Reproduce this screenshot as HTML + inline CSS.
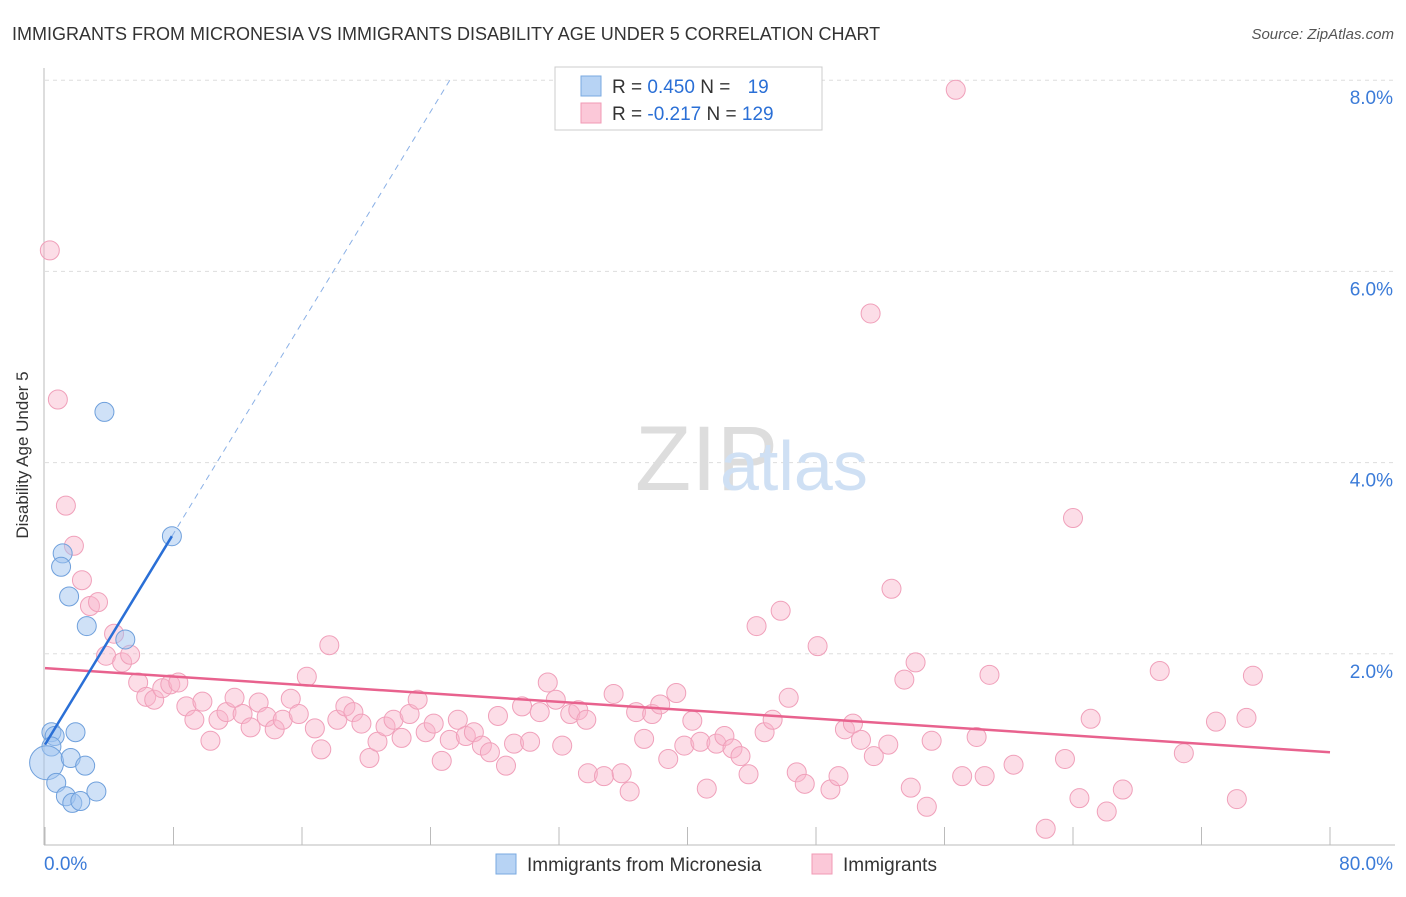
<!DOCTYPE html>
<html><head><meta charset="utf-8">
<style>
body{margin:0;background:#fff;font-family:"Liberation Sans",sans-serif}
svg text{font-family:"Liberation Sans",sans-serif}
</style></head><body>
<svg id="c" width="1406" height="892">
<text x="12" y="40" font-size="18" fill="#333">IMMIGRANTS FROM MICRONESIA VS IMMIGRANTS DISABILITY AGE UNDER 5 CORRELATION CHART</text>
<text x="1394" y="39" font-size="15" fill="#555" text-anchor="end" font-style="italic">Source: ZipAtlas.com</text>
<g id="grid"></g>
<text x="635" y="490" font-size="92" fill="#ddd" font-family="Liberation Serif">ZIP</text>
<text x="720" y="490" font-size="70" fill="#cfe0f4">atlas</text>
<g id="axes"></g>
<g id="pts"></g>
<g id="lines"></g>
<text x="28" y="455" font-size="17" fill="#333" text-anchor="middle" transform="rotate(-90 28 455)">Disability Age Under 5</text>
<g>
<rect x="555" y="67" width="267" height="63" fill="#fff" stroke="#ccc"/>
<rect x="581" y="76" width="20" height="20" fill="#b7d3f4" stroke="#7aa9e0"/>
<rect x="581" y="103" width="20" height="20" fill="#fbc8d8" stroke="#f09ab5"/>
<text x="612" y="93" font-size="19" fill="#333">R = <tspan fill="#2a6fd6">0.450</tspan>   N = <tspan fill="#2a6fd6" dx="12">19</tspan></text>
<text x="612" y="120" font-size="19" fill="#333">R = <tspan fill="#2a6fd6">-0.217</tspan>   N = <tspan fill="#2a6fd6">129</tspan></text>
</g>
<g>
<rect x="496" y="854" width="20" height="20" fill="#b7d3f4" stroke="#7aa9e0"/>
<text x="527" y="871" font-size="19" fill="#333">Immigrants from Micronesia</text>
<rect x="812" y="854" width="20" height="20" fill="#fbc8d8" stroke="#f09ab5"/>
<text x="843" y="871" font-size="19" fill="#333">Immigrants</text>
</g>
</svg>
<script>
const yTicks=[2,4,6,8];
const yTickLabels=["2.0%","4.0%","6.0%","8.0%"];
const xTickLabels=["0.0%","80.0%"];
const blueX=[3.7,7.9,1.1,1.0,1.5,2.6,5.0,0.4,0.6,1.9,0.4,0.1,0.7,1.6,2.5,3.2,1.3,1.7,2.2];
const blueY=[4.53,3.23,3.05,2.91,2.60,2.29,2.15,1.18,1.14,1.18,1.03,0.86,0.65,0.91,0.83,0.56,0.51,0.44,0.46];
const pinkX=[0.3,0.8,1.3,1.8,2.3,2.8,3.3,4.3,3.8,4.8,5.3,5.8,6.3,6.8,7.3,7.8,8.3,8.8,9.3,9.8,10.3,10.8,11.3,11.8,12.3,12.8,13.3,13.8,14.3,14.8,15.3,15.8,16.3,16.8,17.2,17.7,18.2,18.7,19.2,19.7,20.2,20.7,21.2,21.7,22.2,22.7,23.2,23.7,24.2,24.7,25.2,25.7,26.2,26.7,27.2,27.7,28.2,28.7,29.2,29.7,30.2,30.8,31.3,31.8,32.2,32.7,33.2,33.7,33.8,34.8,35.4,35.9,36.4,36.8,37.3,37.8,38.3,38.8,39.3,39.8,40.3,40.8,41.2,41.8,42.3,42.8,43.3,43.8,44.3,44.8,45.3,45.8,46.3,46.8,47.3,48.1,48.9,49.4,49.8,50.3,50.8,51.4,51.6,52.5,52.7,53.5,53.9,54.2,54.9,55.2,56.7,57.1,58.0,58.5,58.8,60.3,62.3,63.5,64.0,64.4,65.1,66.1,67.1,69.4,70.9,72.9,74.2,74.8,75.2];
const pinkY=[6.22,4.66,3.55,3.13,2.77,2.50,2.54,2.21,1.98,1.91,1.99,1.70,1.55,1.52,1.64,1.68,1.70,1.45,1.31,1.50,1.09,1.31,1.39,1.54,1.37,1.23,1.49,1.34,1.21,1.31,1.53,1.37,1.76,1.22,1.00,2.09,1.31,1.45,1.39,1.27,0.91,1.08,1.24,1.31,1.12,1.37,1.52,1.18,1.27,0.88,1.10,1.31,1.14,1.18,1.04,0.97,1.35,0.83,1.06,1.45,1.08,1.39,1.70,1.52,1.04,1.37,1.41,1.31,0.75,0.72,1.58,0.75,0.56,1.39,1.11,1.37,1.47,0.90,1.59,1.04,1.30,1.08,0.59,1.06,1.14,1.01,0.93,0.74,2.29,1.18,1.31,2.45,1.54,0.76,0.64,2.08,0.58,0.72,1.21,1.27,1.10,5.56,0.93,1.05,2.68,1.73,0.60,1.91,0.40,1.09,7.90,0.72,1.13,0.72,1.78,0.84,0.17,0.90,3.42,0.49,1.32,0.35,0.58,1.82,0.96,1.29,0.48,1.33,1.77];
const blueLine=[[0,1.05],[7.9,3.23]];
const blueDash=[[7.9,3.23],[25.2,8.0]];
const pinkLine=[[0,1.85],[80,0.97]];
const X0=45,X1=1330,Y0=845;
const xs=v=>X0+v*(X1-X0)/80;
const ys=v=>Y0-v*95.6;
const NS='http://www.w3.org/2000/svg';
function mk(t,a,p){const e=document.createElementNS(NS,t);for(const k in a)e.setAttribute(k,a[k]);p.appendChild(e);return e;}
const grid=document.getElementById('grid'),axes=document.getElementById('axes'),pts=document.getElementById('pts'),lines=document.getElementById('lines');
yTicks.forEach((t,i)=>{
 const l=mk('line',{x1:X0,x2:1395,y1:ys(t),y2:ys(t),stroke:'#ddd','stroke-dasharray':'4,4'},grid);
 
 
 const tx=mk('text',{x:1393,y:ys(t)+24,'font-size':19,fill:'#3b7bd8','text-anchor':'end'},axes);
 tx.textContent=yTickLabels[i];
 
 
});
mk('line',{x1:44,x2:44,y1:68,y2:845,stroke:'#bbb'},axes);
mk('line',{x1:44,x2:1395,y1:845,y2:845,stroke:'#bbb'},axes);
for(let i=0;i<=10;i++){const l=mk('line',{x1:xs(i*8),x2:xs(i*8),y1:827,y2:845,stroke:'#bbb'},axes);}
[[xTickLabels[0],44,'start'],[xTickLabels[1],1393,'end']].forEach(d=>{const t=mk('text',{x:d[1],y:870,'font-size':19,fill:'#3b7bd8','text-anchor':d[2]},axes);t.textContent=d[0];});
pinkX.forEach((x,i)=>{const c=mk('circle',{cx:xs(x),cy:ys(pinkY[i]),r:9.5,fill:'rgba(248,180,202,0.45)',stroke:'#f0a0ba','stroke-width':1},pts);});
blueX.forEach((x,i)=>{const c=mk('circle',{cx:xs(x),cy:ys(blueY[i]),r:i==11?17:9.5,fill:'rgba(160,196,240,0.5)',stroke:'#6fa0dc','stroke-width':1},pts);});
function ln(p,st,w,dash,name){const l=mk('line',{x1:xs(p[0][0]),y1:ys(p[0][1]),x2:xs(p[1][0]),y2:ys(p[1][1]),stroke:st,'stroke-width':w},lines);if(dash)l.setAttribute('stroke-dasharray',dash);}
ln(pinkLine,'#e8628e',2.5,null,'pink-trend-line');
ln(blueLine,'#2a6fd6',2.5,null,'blue-trend-line');
ln(blueDash,'#8ab0e6',1,'6,5','blue-trend-extension');
</script>
</body></html>
